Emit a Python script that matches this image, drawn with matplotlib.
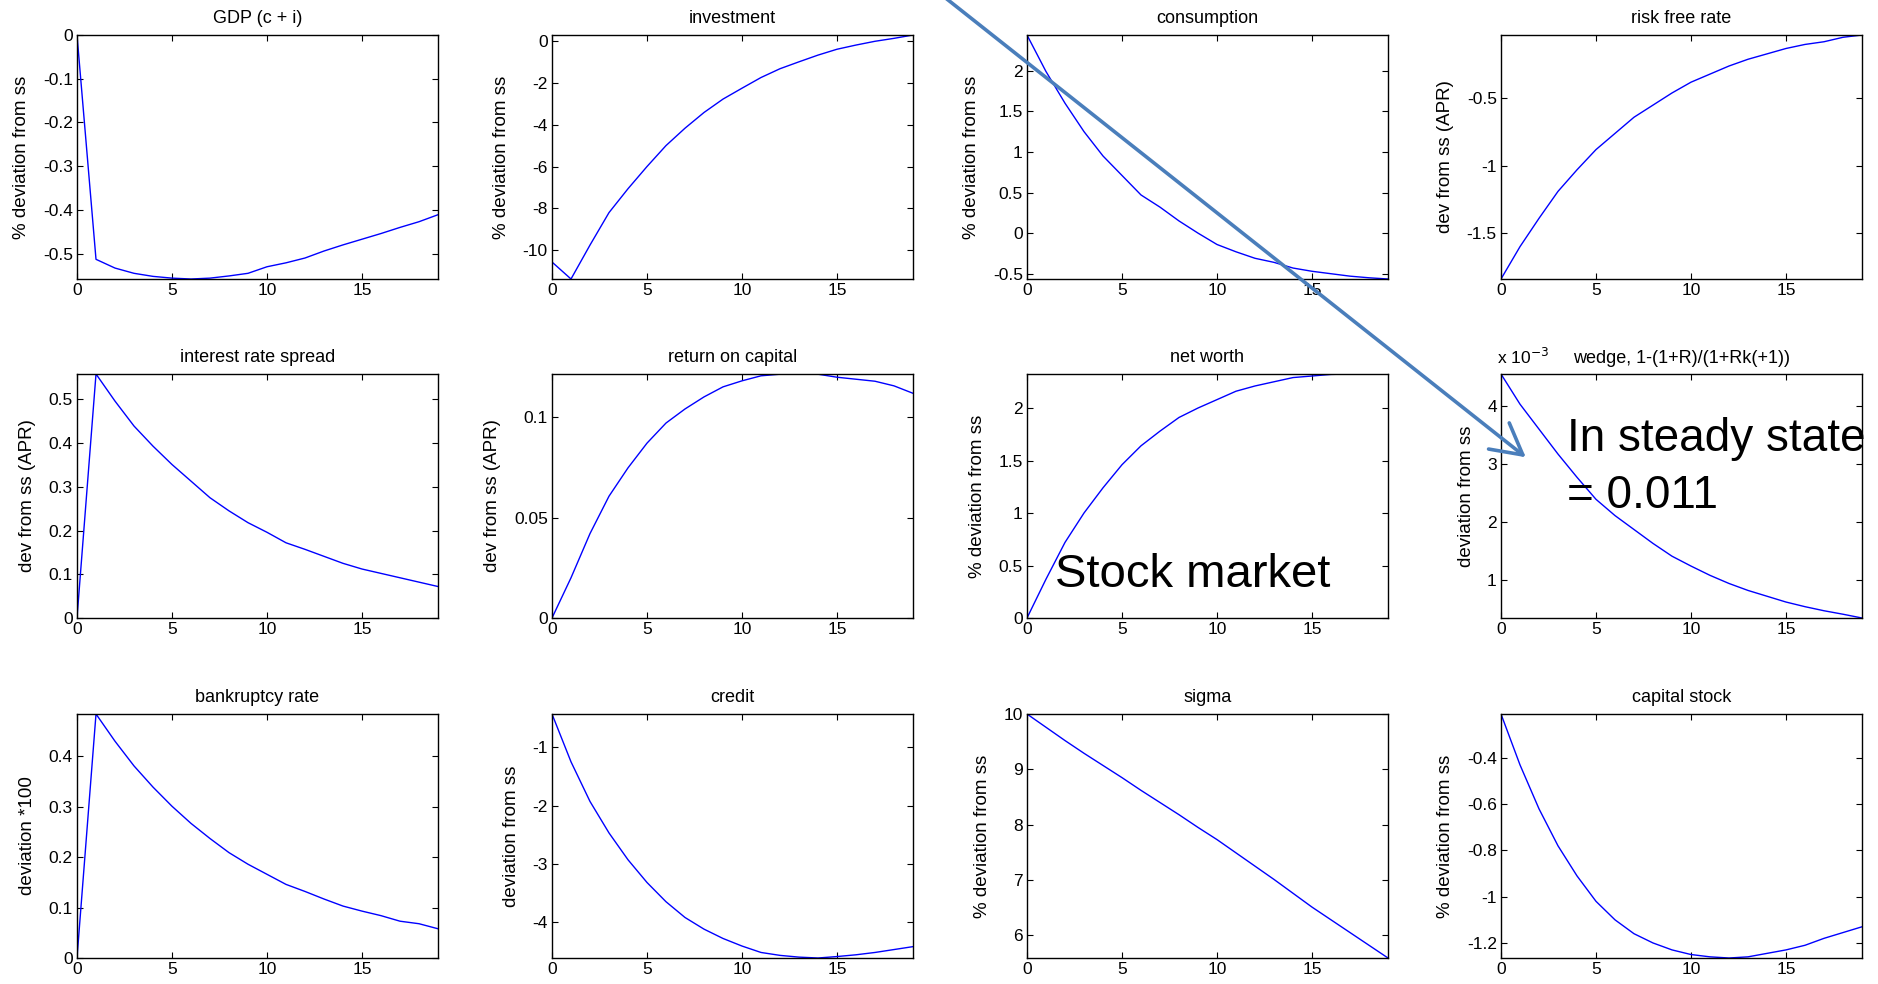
import matplotlib
matplotlib.use('Agg')
from matplotlib import pyplot as plt
from matplotlib.ticker import FuncFormatter
import numpy as np

plt.rcParams['font.family'] = ['Liberation Sans', 'DejaVu Sans']

periods = np.arange(20)

gdp = [0, -0.513, -0.533, -0.545, -0.552, -0.556, -0.558, -0.556, -0.551, -0.545,
       -0.530, -0.521, -0.510, -0.494, -0.480, -0.467, -0.454, -0.440, -0.427, -0.411]
investment = [-10.56, -11.37, -9.75, -8.2, -7.06, -6.0, -5.0, -4.17, -3.42, -2.78,
              -2.26, -1.75, -1.33, -1.0, -0.68, -0.40, -0.2, -0.02, 0.12, 0.28]
consumption = [2.44, 1.99, 1.60, 1.25, 0.95, 0.71, 0.47, 0.32, 0.15, 0.0,
               -0.14, -0.23, -0.31, -0.36, -0.43, -0.47, -0.50, -0.53, -0.55, -0.565]
risk_free = [-1.84, -1.60, -1.39, -1.19, -1.03, -0.88, -0.76, -0.64, -0.55, -0.46,
             -0.38, -0.32, -0.26, -0.21, -0.17, -0.13, -0.10, -0.08, -0.047, -0.03]
spread = [0, 0.558, 0.496, 0.439, 0.393, 0.351, 0.313, 0.275, 0.245, 0.218,
          0.196, 0.172, 0.157, 0.141, 0.125, 0.112, 0.102, 0.092, 0.082, 0.072]
return_k = [0, 0.020, 0.042, 0.0606, 0.0747, 0.087, 0.097, 0.104, 0.110, 0.115,
            0.118, 0.1205, 0.1213, 0.1214, 0.1213, 0.1198, 0.1188, 0.1178, 0.1155, 0.1118]
net_worth = [0, 0.37, 0.72, 1.0, 1.24, 1.46, 1.64, 1.78, 1.91, 2.0,
             2.08, 2.16, 2.21, 2.25, 2.29, 2.305, 2.32, 2.324, 2.324, 2.323]
wedge = [4.55e-3, 4.03e-3, 3.6e-3, 3.17e-3, 2.77e-3, 2.39e-3, 2.11e-3, 1.87e-3, 1.63e-3, 1.41e-3,
         1.24e-3, 1.08e-3, 0.94e-3, 0.82e-3, 0.72e-3, 0.62e-3, 0.54e-3, 0.47e-3, 0.41e-3, 0.345e-3]
bankruptcy = [0, 0.484, 0.43, 0.381, 0.339, 0.301, 0.267, 0.237, 0.209, 0.186,
              0.166, 0.146, 0.132, 0.117, 0.103, 0.093, 0.084, 0.073, 0.068, 0.058]
credit = [-0.43, -1.25, -1.93, -2.47, -2.93, -3.32, -3.65, -3.92, -4.12, -4.28,
          -4.41, -4.52, -4.57, -4.60, -4.615, -4.59, -4.56, -4.52, -4.47, -4.42]
sigma = [10.0, 9.76, 9.52, 9.29, 9.07, 8.85, 8.62, 8.40, 8.18, 7.95,
         7.73, 7.49, 7.25, 7.01, 6.76, 6.51, 6.28, 6.05, 5.82, 5.59]
capital = [-0.21, -0.43, -0.62, -0.78, -0.91, -1.02, -1.10, -1.16, -1.20, -1.23,
           -1.25, -1.26, -1.265, -1.26, -1.245, -1.23, -1.21, -1.18, -1.155, -1.13]

panels = [
    ("GDP (c + i)", "% deviation from ss", gdp, [0, -0.1, -0.2, -0.3, -0.4, -0.5]),
    ("investment", "% deviation from ss", investment, [0, -2, -4, -6, -8, -10]),
    ("consumption", "% deviation from ss", consumption, [2, 1.5, 1, 0.5, 0, -0.5]),
    ("risk free rate", "dev from ss (APR)", risk_free, [-0.5, -1, -1.5]),
    ("interest rate spread", "dev from ss (APR)", spread, [0, 0.1, 0.2, 0.3, 0.4, 0.5]),
    ("return on capital", "dev from ss (APR)", return_k, [0, 0.05, 0.1]),
    ("net worth", "% deviation from ss", net_worth, [0, 0.5, 1, 1.5, 2]),
    ("wedge, 1-(1+R)/(1+Rk(+1))", "deviation from ss", wedge, [1e-3, 2e-3, 3e-3, 4e-3]),
    ("bankruptcy rate", "deviation *100", bankruptcy, [0, 0.1, 0.2, 0.3, 0.4]),
    ("credit", "deviation from ss", credit, [-1, -2, -3, -4]),
    ("sigma", "% deviation from ss", sigma, [6, 7, 8, 9, 10]),
    ("capital stock", "% deviation from ss", capital, [-0.4, -0.6, -0.8, -1, -1.2]),
]

W, H = 1878, 984
fig = plt.figure(figsize=(W / 100, H / 100), dpi=100)

col_left = [77, 552, 1027, 1501]
row_top = [35, 374, 714]
aw, ah = 361, 244

for i, (title, ylab, vals, yt) in enumerate(panels):
    r, c = divmod(i, 4)
    ax = fig.add_axes([col_left[c] / W, (H - row_top[r] - ah) / H, aw / W, ah / H])
    vals = np.array(vals)
    ax.plot(periods, vals, color='#0000ff', lw=1.0)
    ax.set_xlim(0, 19)
    ax.set_ylim(vals.min(), vals.max())
    ax.set_xticks([0, 5, 10, 15])
    ax.set_yticks(yt)
    if i == 7:
        ax.yaxis.set_major_formatter(FuncFormatter(lambda v, p: '%g' % round(v * 1e3, 6)))
        ax.text(-0.01, 1.03, r'x 10$^{-3}$', transform=ax.transAxes, fontsize=12.5,
                ha='left', va='bottom')
        ax.set_title(title, fontsize=13, pad=8)
    else:
        ax.yaxis.set_major_formatter(FuncFormatter(lambda v, p: '%g' % round(v, 6)))
        ax.set_title(title, fontsize=13, pad=9)
    ax.set_ylabel(ylab, fontsize=13.5, labelpad=9)
    ax.tick_params(direction='in', top=True, right=True, length=4, width=0.8,
                   labelsize=12.5, pad=3)
    for s in ax.spines.values():
        s.set_linewidth(1.0)

# overlay annotations
fig.text(1055 / W, 1 - 587 / H, "Stock market", fontsize=34, ha='left', va='baseline')
fig.text(1567 / W, 1 - 451 / H, "In steady state", fontsize=33, ha='left', va='baseline')
fig.text(1567 / W, 1 - 508 / H, "= 0.011", fontsize=33, ha='left', va='baseline')
fig.patches.append(matplotlib.patches.FancyArrowPatch(
    (938 / W, 1 + 8 / H), (1528 / W, 1 - 459 / H), transform=fig.transFigure,
    arrowstyle='->,head_length=1.1,head_width=0.6', mutation_scale=20,
    color='#4a7ebb', lw=2.6))

fig.savefig('out.png', dpi=100)
